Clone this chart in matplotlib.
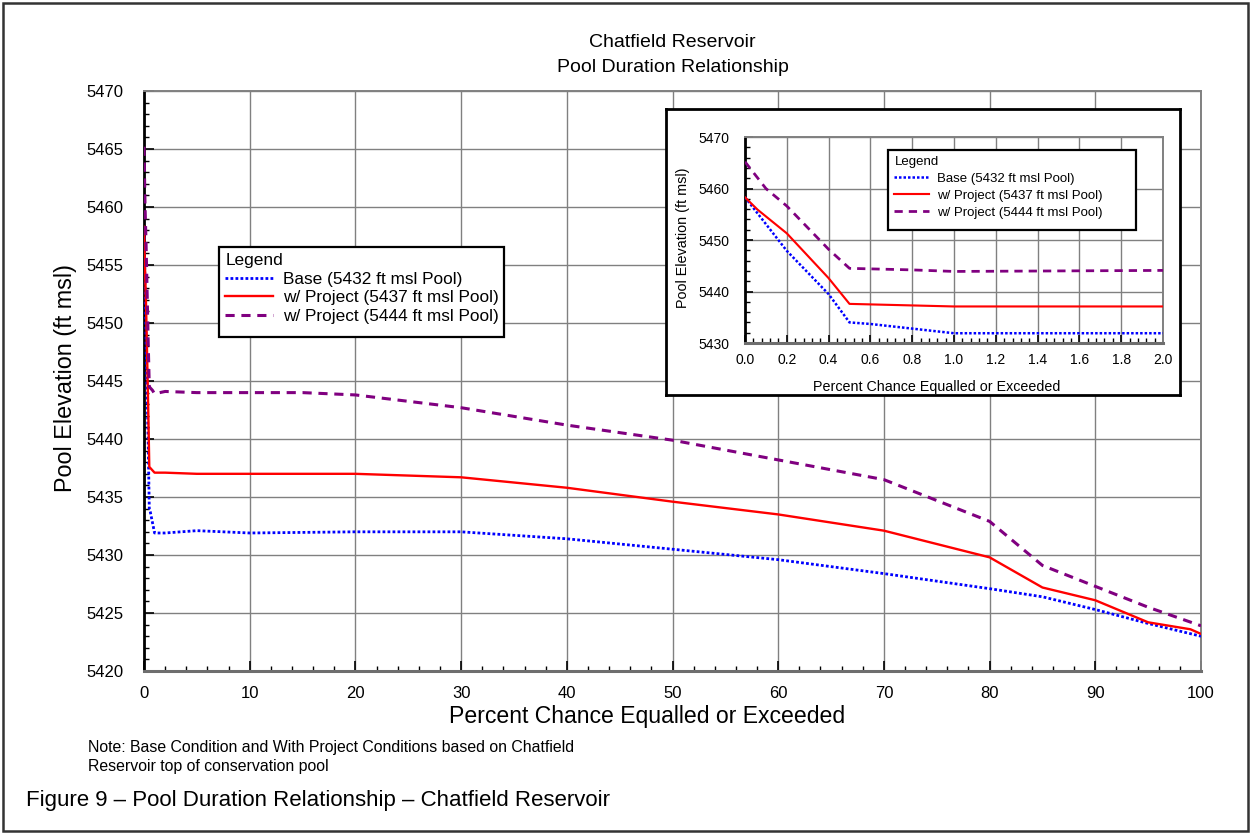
import matplotlib
matplotlib.use("Agg")
import matplotlib.pyplot as plt
from matplotlib.ticker import MultipleLocator, FormatStrFormatter
from matplotlib.patches import Rectangle

plt.rcParams['font.family'] = ['Liberation Sans', 'DejaVu Sans']

# Percent chance equalled or exceeded vs pool elevation (ft msl)
base_x = [0.0, 0.2, 0.4, 0.5, 0.6, 0.8, 1.0, 2.0, 5, 10, 20, 30, 40, 50, 60, 70, 80, 85, 90, 95, 100]
base_y = [5458.3, 5447.9, 5439.5, 5434.0, 5433.7, 5432.8, 5431.9, 5431.9, 5432.1, 5431.9, 5432.0,
          5432.0, 5431.4, 5430.5, 5429.6, 5428.4, 5427.1, 5426.4, 5425.3, 5424.1, 5423.0]

p37_x = [0.0, 0.06, 0.2, 0.4, 0.5, 1.0, 2.0, 5, 10, 20, 30, 40, 50, 60, 70, 80, 85, 90, 95, 99, 100]
p37_y = [5458.3, 5455.9, 5451.3, 5442.6, 5437.6, 5437.1, 5437.1, 5437.0, 5437.0, 5437.0, 5436.7,
         5435.8, 5434.6, 5433.5, 5432.1, 5429.8, 5427.2, 5426.1, 5424.2, 5423.6, 5423.2]

p44_x = [0.0, 0.1, 0.2, 0.4, 0.5, 0.6, 0.8, 1.0, 2.0, 5, 15, 20, 30, 40, 50, 60, 70, 80, 85, 90, 95, 100]
p44_y = [5465.2, 5460.0, 5456.6, 5448.2, 5444.5, 5444.4, 5444.2, 5443.9, 5444.1, 5444.0, 5444.0,
         5443.8, 5442.7, 5441.2, 5439.9, 5438.2, 5436.5, 5432.9, 5429.1, 5427.3, 5425.5, 5423.9]

labels = ["Base (5432 ft msl Pool)", "w/ Project (5437 ft msl Pool)", "w/ Project (5444 ft msl Pool)"]

GRID = '#808080'


def draw_series(ax, lw_scale=1.0):
    ax.plot(base_x, base_y, color='#0000FF', lw=2.0 * lw_scale, linestyle=(0, (1, 0.8)),
            dash_capstyle='butt', label=labels[0], zorder=3)
    ax.plot(p37_x, p37_y, color='#FF0000', lw=1.7 * lw_scale, label=labels[1], zorder=3)
    ax.plot(p44_x, p44_y, color='#800080', lw=2.2 * lw_scale, linestyle=(0, (3, 2.2)),
            dash_capstyle='butt', label=labels[2], zorder=3)


def style_axes(ax, major_len, minor_len):
    ax.grid(True, which='major', color=GRID, lw=1.0)
    ax.set_axisbelow(True)
    ax.spines['left'].set_color('black')
    ax.spines['left'].set_linewidth(2.0)
    ax.spines['bottom'].set_color('#6e6e6e')
    ax.spines['bottom'].set_linewidth(2.2)
    for s in ('top', 'right'):
        ax.spines[s].set_color(GRID)
        ax.spines[s].set_linewidth(1.4)
    ax.tick_params(which='both', direction='in', top=False, right=False, color='black')
    ax.tick_params(which='major', length=major_len, width=1.2)
    ax.tick_params(which='minor', length=minor_len, width=1.0)


def boxed_legend(ax, box, anchor, fontsize, handlelength, handletextpad, labelspacing):
    # legend without its own frame, boxed by a plain rectangle in figure coords
    ax.add_patch(Rectangle(box[:2], box[2], box[3], transform=fig.transFigure, facecolor='white',
                           edgecolor='black', lw=1.6, zorder=4, clip_on=False))
    return ax.legend(loc='upper left', bbox_to_anchor=anchor, bbox_transform=fig.transFigure,
                     title="Legend", fontsize=fontsize, title_fontsize=fontsize, alignment='left',
                     frameon=False, handlelength=handlelength, handletextpad=handletextpad,
                     borderpad=0.3, labelspacing=labelspacing, borderaxespad=0)


fig = plt.figure(figsize=(12.5, 8.34), dpi=100)

# main chart
ax = fig.add_axes([0.1152, 0.1954, 0.8456, 0.6955], zorder=0)
draw_series(ax)
ax.set_xlim(0, 100)
ax.set_ylim(5420, 5470)
ax.xaxis.set_major_locator(MultipleLocator(10))
ax.xaxis.set_minor_locator(MultipleLocator(2))
ax.yaxis.set_major_locator(MultipleLocator(5))
ax.yaxis.set_minor_locator(MultipleLocator(1))
style_axes(ax, 7, 3.5)
ax.tick_params(axis='y', which='major', pad=15, labelsize=12)
ax.tick_params(axis='x', which='major', pad=11, labelsize=12)
ax.set_xlabel("Percent Chance Equalled or Exceeded", fontsize=16.6)
ax.set_ylabel("Pool Elevation (ft msl)", fontsize=16.8)
ax.xaxis.set_label_coords(0.476, -0.079)
ax.xaxis.label.set_va('center')
ax.yaxis.set_label_coords(-0.0738, 0.505)
ax.yaxis.label.set_va('center')

boxed_legend(ax, (0.1752, 0.5959, 0.228, 0.1079), (0.1762, 0.7024), 12.4, 2.75, 0.6, 0.2)

# inset frame
frame = fig.add_axes([0.5328, 0.5264, 0.4112, 0.3429], zorder=2)
frame.set_xticks([])
frame.set_yticks([])
for s in frame.spines.values():
    s.set_color('black')
    s.set_linewidth(2.0)

# inset chart
ins = fig.add_axes([0.596, 0.5887, 0.3344, 0.247], zorder=3)
draw_series(ins, 0.9)
ins.set_xlim(0, 2.0)
ins.set_ylim(5430, 5470)
ins.xaxis.set_major_locator(MultipleLocator(0.2))
ins.xaxis.set_minor_locator(MultipleLocator(0.04))
ins.yaxis.set_major_locator(MultipleLocator(10))
ins.yaxis.set_minor_locator(MultipleLocator(2))
ins.xaxis.set_major_formatter(FormatStrFormatter('%.1f'))
style_axes(ins, 6, 3.5)
ins.tick_params(axis='y', which='major', pad=11, labelsize=10)
ins.tick_params(axis='x', which='major', pad=7, labelsize=10)
ins.set_xlabel("Percent Chance Equalled or Exceeded", fontsize=10.3)
ins.set_ylabel("Pool Elevation (ft msl)", fontsize=10.4)
ins.xaxis.set_label_coords(0.459, -0.2136)
ins.xaxis.label.set_va('center')
ins.yaxis.set_label_coords(-0.148, 0.51)
ins.yaxis.label.set_va('center')

boxed_legend(ins, (0.7104, 0.7242, 0.1984, 0.0959), (0.7124, 0.8180), 9.5, 2.6, 0.6, 0.36)

# titles and notes
fig.text(0.538, 0.9496, "Chatfield Reservoir", ha='center', va='center', fontsize=14)
fig.text(0.538, 0.9185, "Pool Duration Relationship", ha='center', va='center', fontsize=14)
fig.text(0.0704, 0.1127, "Note: Base Condition and With Project Conditions based on Chatfield\n"
         "Reservoir top of conservation pool", ha='left', va='top', fontsize=11.4, linespacing=1.3)
fig.text(0.0208, 0.0396, "Figure 9 \u2013 Pool Duration Relationship \u2013 Chatfield Reservoir",
         ha='left', va='center', fontsize=16)

# outer border
fig.add_artist(Rectangle((0.002, 0.003), 0.996, 0.994, transform=fig.transFigure, fill=False,
                         edgecolor='#333333', lw=1.8))

fig.savefig("out.png", dpi=100)
